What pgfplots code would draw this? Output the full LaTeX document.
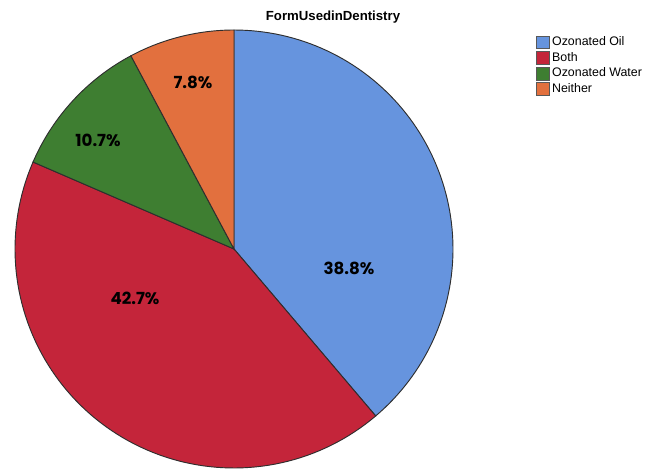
\documentclass[border=0pt]{standalone}
\usepackage{pgfplots}
\pgfplotsset{compat=1.18}
\usepackage{fontspec}
\setmainfont{Liberation Sans}
\newfontfamily\labelfont{Poppins}
\definecolor{cOil}{HTML}{6694DE}
\definecolor{cBoth}{HTML}{C4253A}
\definecolor{cWater}{HTML}{3E7E31}
\definecolor{cNeither}{HTML}{E2703E}
\definecolor{cEdge}{HTML}{2E2E2E}
\begin{document}
\begin{tikzpicture}
% shares in percent
\def\vOil{38.8}\def\vBoth{42.7}\def\vWater{10.7}\def\vNeither{7.8}
\pgfmathsetmacro{\aA}{90}
\pgfmathsetmacro{\aB}{\aA-3.6*\vOil}
\pgfmathsetmacro{\aC}{\aB-3.6*\vBoth}
\pgfmathsetmacro{\aD}{\aC-3.6*\vWater}
\pgfmathsetmacro{\aE}{\aD-3.6*\vNeither}
\def\cx{234}\def\cy{219}\def\r{219}
\begin{axis}[
  width=484.5pt, height=351pt, scale only axis,
  xmin=0, xmax=646, ymin=0, ymax=468,
  hide axis, clip=false,
  legend cell align=left,
  legend style={at={(axis cs:536,433)}, anchor=north west, draw=none, fill=none,
    font=\fontsize{9.3pt}{10pt}\selectfont, row sep=1.1pt, inner sep=0pt,
    /tikz/every odd column/.append style={column sep=1pt},
    nodes={inner sep=0.8pt, text height=7pt, text depth=2pt}},
  legend image code/.code={\draw[#1,draw=cEdge!80,line width=0.5pt] (0pt,-4.8pt) rectangle (9.6pt,4.8pt);},
]
\coordinate (bl) at (axis cs:0,0);
\coordinate (tr) at (axis cs:646,468);
\addplot[fill=cOil, draw=cEdge, line width=0.7pt, domain=\aA:\aB, samples=90, variable=\t]
  ({\cx+\r*cos(\t)},{\cy+\r*sin(\t)}) -- (axis cs:\cx,\cy) -- cycle;
\addlegendentry{Ozonated Oil}
\addplot[fill=cBoth, draw=cEdge, line width=0.7pt, domain=\aB:\aC, samples=90, variable=\t]
  ({\cx+\r*cos(\t)},{\cy+\r*sin(\t)}) -- (axis cs:\cx,\cy) -- cycle;
\addlegendentry{Both}
\addplot[fill=cWater, draw=cEdge, line width=0.7pt, domain=\aC:\aD, samples=40, variable=\t]
  ({\cx+\r*cos(\t)},{\cy+\r*sin(\t)}) -- (axis cs:\cx,\cy) -- cycle;
\addlegendentry{Ozonated Water}
\addplot[fill=cNeither, draw=cEdge, line width=0.7pt, domain=\aD:\aE, samples=30, variable=\t]
  ({\cx+\r*cos(\t)},{\cy+\r*sin(\t)}) -- (axis cs:\cx,\cy) -- cycle;
\addlegendentry{Neither}
\node[font=\labelfont\bfseries\fontsize{12.5pt}{14pt}\selectfont] at (axis cs:349,200) {38.8\%};
\node[font=\labelfont\bfseries\fontsize{12.5pt}{14pt}\selectfont] at (axis cs:135,170) {42.7\%};
\node[font=\labelfont\bfseries\fontsize{12.5pt}{14pt}\selectfont] at (axis cs:98,328) {10.7\%};
\node[font=\labelfont\bfseries\fontsize{12.5pt}{14pt}\selectfont] at (axis cs:193,386) {7.8\%};
\node[font=\bfseries\fontsize{9.9pt}{11pt}\selectfont] at (axis cs:333,451) {FormUsedinDentistry};
\end{axis}
\pgfresetboundingbox
\useasboundingbox (bl) rectangle (tr);
\end{tikzpicture}
\end{document}
